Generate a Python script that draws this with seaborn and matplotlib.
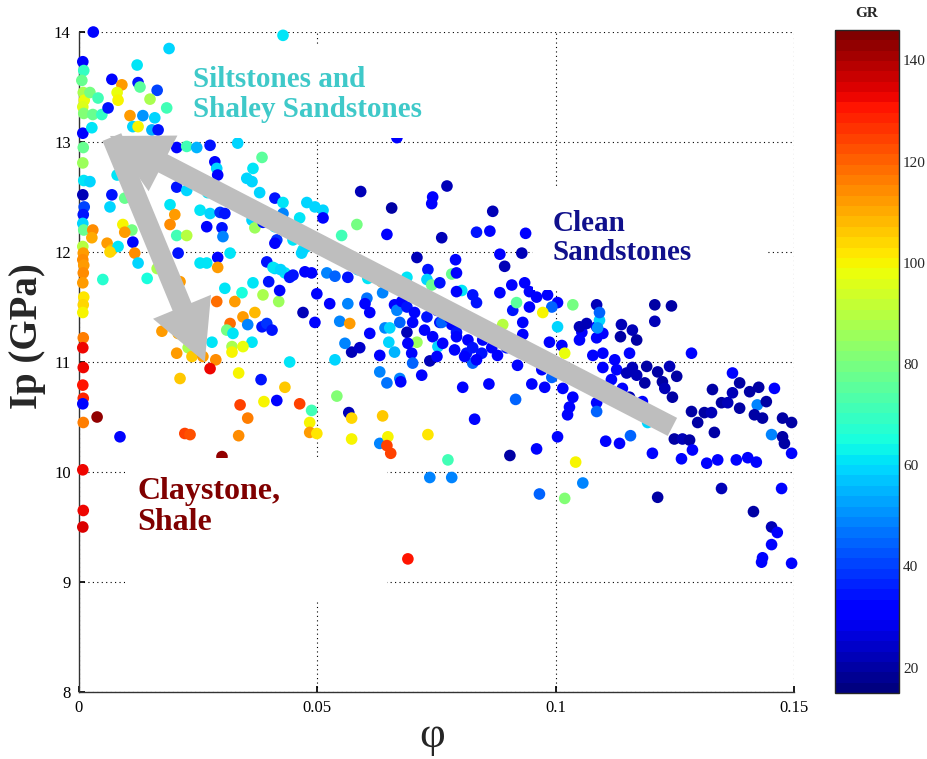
import numpy as np
import pandas as pd
import matplotlib
matplotlib.use("Agg")
import matplotlib.pyplot as plt
import seaborn as sns
from matplotlib.patches import Rectangle
from matplotlib.colors import Normalize
from matplotlib.cm import ScalarMappable

# ---------------- data ----------------
# points along the phi ~ 0 edge
edge_phi = [0.0008, 0.0010, 0.0006, 0.0009, 0.0011, 0.0008, 0.0010, 0.0008, 0.0009, 0.0008,
            0.0010, 0.0008, 0.0011, 0.0009, 0.0008, 0.0010, 0.0008, 0.0009, 0.0008, 0.0010,
            0.0009, 0.0008, 0.0010, 0.0009, 0.0008, 0.0009, 0.0008, 0.0009, 0.0008, 0.0009,
            0.0008, 0.0009, 0.0008, 0.0009, 0.0008, 0.0030, 0.0038]
edge_ip = [13.73, 13.65, 13.56, 13.45, 13.38, 13.32, 13.26, 13.08, 12.95, 12.81,
           12.65, 12.52, 12.41, 12.34, 12.26, 12.20, 12.05, 11.99, 11.93, 11.88,
           11.81, 11.72, 11.59, 11.52, 11.45, 11.22, 11.13, 10.95, 10.79, 10.67,
           10.62, 10.45, 10.02, 9.65, 9.50, 14.00, 10.50]
edge_gr = [32, 70, 78, 88, 98, 95, 82, 30, 78, 86,
           62, 22, 40, 35, 58, 78, 90, 112, 115, 113,
           115, 112, 102, 105, 100, 116, 132, 133, 130, 128,
           32, 117, 133, 132, 134, 32, 142]

# siltstones / shaley sandstones (upper left)
silt_phi = [0.0023, 0.0040, 0.0029, 0.0048, 0.0027, 0.0069, 0.0090, 0.0124, 0.0128, 0.0164,
            0.0149, 0.0080, 0.0082, 0.0061, 0.0184, 0.0107, 0.0134, 0.0159, 0.0113, 0.0124,
            0.0153, 0.0166, 0.0122, 0.0189, 0.0428, 0.0205, 0.0226, 0.0247, 0.0275, 0.0333,
            0.0285, 0.0289, 0.0384, 0.0365, 0.0352, 0.0363, 0.0291, 0.0208, 0.0229, 0.0080,
            0.0023, 0.0205, 0.0226, 0.0270, 0.0296, 0.0379, 0.0411, 0.0428, 0.0478, 0.0254,
            0.0275, 0.0296, 0.0306, 0.0191, 0.0268, 0.0300, 0.0302, 0.0363, 0.0369, 0.0386,
            0.0411, 0.0415, 0.0447, 0.0474, 0.0470, 0.0495, 0.0411, 0.0205, 0.0092, 0.0111,
            0.0191, 0.0226, 0.0201, 0.0090, 0.0069, 0.0065, 0.0096, 0.0117, 0.0096, 0.0029,
            0.0027, 0.0059, 0.0069, 0.0082, 0.0113, 0.0117, 0.0124, 0.0164, 0.0143, 0.0050,
            0.0065, 0.0208, 0.0254, 0.0268, 0.0291, 0.0291, 0.0212, 0.0317, 0.0394, 0.0411,
            0.0432, 0.0449, 0.0474, 0.0488, 0.0520, 0.0407, 0.0423, 0.0442, 0.0463, 0.0512,
            0.0512, 0.0428, 0.0449, 0.0478, 0.0467, 0.0583, 0.0551]
silt_ip = [13.45, 13.40, 13.25, 13.25, 13.13, 13.57, 13.52, 13.54, 13.50, 13.47,
           13.39, 13.45, 13.38, 13.31, 13.31, 13.24, 13.24, 13.22, 13.14, 13.14,
           13.11, 13.11, 13.70, 13.85, 13.97, 12.95, 12.96, 12.95, 12.97, 12.99,
           12.82, 12.76, 12.86, 12.76, 12.67, 12.64, 12.70, 12.72, 12.65, 12.70,
           12.64, 12.59, 12.56, 12.54, 12.54, 12.54, 12.49, 12.45, 12.45, 12.38,
           12.35, 12.36, 12.35, 12.43, 12.23, 12.22, 12.14, 12.29, 12.22, 12.27,
           12.23, 12.11, 12.20, 12.17, 12.02, 12.41, 12.08, 12.15, 12.25, 12.20,
           12.25, 12.15, 12.34, 12.80, 12.52, 12.41, 12.49, 12.49, 12.18, 12.20,
           12.13, 12.08, 12.02, 12.05, 12.09, 11.99, 11.90, 11.85, 11.76, 11.75,
           12.00, 11.99, 11.90, 11.90, 11.95, 11.86, 11.73, 11.99, 11.91, 11.85,
           11.81, 11.79, 11.82, 11.81, 11.81, 11.86, 11.84, 11.77, 12.31, 12.38,
           12.31, 12.35, 12.11, 12.05, 11.99, 12.25, 12.15]
silt_gr = [80, 72, 78, 70, 62, 32, 112, 35, 75, 40,
           88, 98, 100, 35, 72, 112, 50, 58, 60, 100,
           55, 35, 62, 58, 62, 32, 72, 55, 35, 60,
           32, 60, 76, 62, 60, 58, 30, 32, 60, 62,
           60, 35, 58, 62, 32, 60, 35, 62, 60, 62,
           58, 38, 35, 62, 32, 35, 48, 60, 86, 35,
           62, 38, 60, 58, 62, 58, 32, 72, 100, 80,
           115, 90, 113, 80, 35, 60, 78, 62, 112, 115,
           110, 112, 108, 62, 32, 115, 60, 88, 65, 68,
           105, 35, 62, 62, 32, 113, 112, 62, 35, 60,
           62, 35, 30, 32, 48, 62, 58, 35, 62, 58,
           32, 48, 62, 60, 58, 80, 72]

# claystone / shale trend (lower left)
clay_phi = [0.0174, 0.0208, 0.0205, 0.0229, 0.0237, 0.0260, 0.0287, 0.0275, 0.0279, 0.0212,
            0.0289, 0.0306, 0.0327, 0.0342, 0.0317, 0.0310, 0.0323, 0.0344, 0.0369, 0.0354,
            0.0363, 0.0321, 0.0321, 0.0344, 0.0365, 0.0386, 0.0398, 0.0419, 0.0421, 0.0470,
            0.0495, 0.0384, 0.0394, 0.0405, 0.0442, 0.0335, 0.0382, 0.0432, 0.0388, 0.0415,
            0.0463, 0.0488, 0.0338, 0.0354, 0.0484, 0.0484, 0.0499, 0.0335, 0.0300, 0.0222,
            0.0233, 0.0086, 0.0541, 0.0566, 0.0572, 0.0637, 0.0572, 0.0631, 0.0648, 0.0646,
            0.0654, 0.0732, 0.0774, 0.0736, 0.0782, 0.0690]
clay_ip = [11.28, 11.26, 11.08, 11.13, 11.05, 11.05, 11.02, 10.94, 11.18, 10.85,
           11.55, 11.67, 11.55, 11.63, 11.35, 11.29, 11.26, 11.41, 11.45, 11.34,
           11.18, 11.14, 11.09, 11.14, 11.72, 11.61, 11.73, 11.55, 11.65, 11.45,
           11.36, 11.32, 11.35, 11.29, 11.00, 10.90, 10.84, 10.77, 10.64, 10.65,
           10.62, 10.56, 10.61, 10.49, 10.45, 10.36, 10.35, 10.33, 10.14, 10.35,
           10.34, 10.32, 10.69, 10.54, 10.49, 10.51, 10.30, 10.26, 10.32, 10.24,
           10.17, 10.34, 10.11, 9.95, 9.95, 9.21]
clay_gr = [112, 110, 112, 88, 106, 112, 115, 132, 62, 106,
           118, 62, 112, 65, 118, 80, 62, 112, 108, 48,
           62, 88, 100, 98, 62, 88, 35, 86, 32, 22,
           32, 35, 38, 35, 62, 100, 35, 106, 100, 32,
           125, 72, 124, 116, 100, 112, 102, 115, 142, 124,
           122, 32, 82, 22, 105, 106, 100, 48, 100, 125,
           125, 102, 72, 48, 48, 130]

# clean sandstones (centre and right)
clean_phi = [0.0591, 0.0656, 0.0772, 0.0742, 0.0740, 0.0646, 0.0761, 0.0868, 0.0834, 0.0862,
             0.0937, 0.0709, 0.0790, 0.0883, 0.0929, 0.0893, 0.0667, 0.0537, 0.0564, 0.0585,
             0.0606, 0.0635, 0.0688, 0.0732, 0.0730, 0.0740, 0.0757, 0.0782, 0.0792, 0.0803,
             0.0499, 0.0526, 0.0564, 0.0604, 0.0637, 0.0547, 0.0568, 0.0600, 0.0610, 0.0610,
             0.0642, 0.0652, 0.0662, 0.0667, 0.0677, 0.0688, 0.0704, 0.0673, 0.0688, 0.0700,
             0.0709, 0.0725, 0.0730, 0.0751, 0.0757, 0.0772, 0.0782, 0.0792, 0.0742, 0.0753,
             0.0763, 0.0690, 0.0698, 0.0650, 0.0662, 0.0631, 0.0572, 0.0589, 0.0558, 0.0537,
             0.0631, 0.0646, 0.0673, 0.0700, 0.0719, 0.0736, 0.0751, 0.0788, 0.0805, 0.0813,
             0.0826, 0.0860, 0.0675, 0.0830, 0.0916, 0.0950, 0.0977, 0.0904, 0.0960, 0.0966,
             0.1004, 0.0792, 0.0826, 0.0834, 0.0883, 0.0908, 0.0935, 0.0945, 0.0960, 0.0983,
             0.1004, 0.0992, 0.0931, 0.0910, 0.0945, 0.0761, 0.0778, 0.0792, 0.0816, 0.0826,
             0.0847, 0.0866, 0.0878, 0.0897, 0.0918, 0.0931, 0.0845, 0.0809, 0.0834, 0.0920,
             0.0971, 0.0987, 0.1013, 0.0992, 0.1015, 0.1036, 0.1029, 0.1055, 0.1050, 0.1065,
             0.1086, 0.1086, 0.1099, 0.1138, 0.1161, 0.1170, 0.1124, 0.1155, 0.1099, 0.1078,
             0.1099, 0.1128, 0.1149, 0.1161, 0.1117, 0.1140, 0.1155, 0.1086, 0.0918, 0.0973,
             0.1004, 0.0889, 0.1036, 0.1092, 0.1088, 0.1019, 0.1208, 0.1243, 0.1208, 0.1285,
             0.1086, 0.1050, 0.1092, 0.1136, 0.1191, 0.1214, 0.1239, 0.1254, 0.1170, 0.1187,
             0.1224, 0.1229, 0.1245, 0.1182, 0.1193, 0.1025, 0.1086, 0.1105, 0.1134, 0.1157,
             0.1042, 0.1019, 0.1057, 0.1203, 0.1214, 0.1249, 0.1266, 0.1281, 0.1287, 0.1264,
             0.1285, 0.1298, 0.1312, 0.1327, 0.1329, 0.1348, 0.1333, 0.1361, 0.1371, 0.1386,
             0.1371, 0.1407, 0.1426, 0.1459, 0.1423, 0.1442, 0.1417, 0.1434, 0.1386, 0.1317,
             0.1340, 0.1379, 0.1403, 0.1421, 0.1453, 0.1476, 0.1495, 0.1476, 0.1480, 0.1495,
             0.1348, 0.1474, 0.1415, 0.1453, 0.1465, 0.1453, 0.1434, 0.1432, 0.1495]
clean_ip = [12.55, 12.40, 12.60, 12.50, 12.44, 12.16, 12.13, 12.37, 12.18, 12.19,
            12.17, 11.95, 11.93, 11.98, 11.99, 11.87, 13.04, 11.78, 11.77, 11.84,
            11.76, 11.73, 11.77, 11.84, 11.75, 11.70, 11.72, 11.80, 11.81, 11.65,
            11.62, 11.53, 11.53, 11.58, 11.63, 11.37, 11.35, 11.53, 11.45, 11.26,
            11.31, 11.31, 11.52, 11.47, 11.55, 11.50, 11.45, 11.36, 11.27, 11.36,
            11.18, 11.29, 11.41, 11.47, 11.36, 11.50, 11.34, 11.27, 11.23, 11.14,
            11.17, 11.17, 11.08, 11.18, 11.09, 11.06, 11.09, 11.13, 11.17, 11.02,
            10.91, 10.81, 10.85, 10.99, 10.88, 11.01, 11.05, 11.11, 10.77, 11.08,
            10.99, 10.80, 10.82, 10.48, 10.66, 10.80, 10.77, 10.15, 10.21, 9.80,
            10.32, 11.64, 11.61, 11.54, 11.63, 11.70, 11.72, 11.64, 11.59, 11.61,
            11.54, 11.50, 11.36, 11.47, 11.50, 11.36, 11.40, 11.23, 11.20, 11.13,
            11.20, 11.13, 11.06, 11.13, 11.14, 11.25, 11.08, 11.05, 11.02, 10.97,
            10.93, 11.18, 11.15, 10.86, 10.76, 10.68, 10.59, 11.27, 11.20, 11.35,
            11.32, 11.22, 11.26, 11.34, 11.29, 11.20, 11.02, 11.08, 11.08, 11.06,
            10.95, 10.93, 10.90, 10.95, 10.84, 10.76, 10.68, 10.63, 11.54, 11.45,
            11.32, 11.34, 11.52, 11.38, 11.31, 11.08, 11.52, 11.51, 11.37, 11.08,
            11.52, 11.32, 11.45, 11.23, 10.96, 10.91, 10.96, 10.87, 10.88, 10.81,
            10.82, 10.76, 10.68, 10.64, 10.45, 10.52, 10.55, 10.28, 10.26, 10.33,
            10.09, 9.76, 9.90, 10.17, 9.77, 10.30, 10.30, 10.29, 10.20, 10.12,
            10.55, 10.45, 10.54, 10.54, 10.75, 10.63, 10.36, 10.63, 10.72, 10.58,
            10.90, 10.73, 10.77, 10.76, 10.61, 10.64, 10.52, 10.49, 10.81, 10.08,
            10.11, 10.11, 10.13, 10.09, 10.34, 10.49, 10.45, 10.32, 10.26, 10.17,
            9.85, 9.85, 9.64, 9.50, 9.45, 9.34, 9.22, 9.18, 9.17]
clean_gr = [22, 20, 22, 30, 30, 30, 22, 22, 35, 32,
            30, 22, 32, 30, 22, 22, 30, 45, 35, 60,
            62, 112, 62, 35, 58, 78, 35, 78, 32, 62,
            32, 30, 48, 46, 48, 48, 112, 32, 30, 32,
            48, 58, 32, 48, 30, 35, 32, 45, 22, 32,
            86, 32, 35, 30, 35, 32, 32, 35, 30, 58,
            32, 30, 32, 58, 55, 32, 22, 24, 48, 60,
            48, 46, 48, 45, 32, 22, 32, 32, 32, 35,
            45, 32, 32, 32, 45, 32, 32, 20, 32, 45,
            32, 32, 35, 35, 32, 30, 30, 32, 30, 32,
            30, 45, 32, 35, 30, 45, 32, 32, 30, 35,
            32, 30, 30, 35, 32, 30, 35, 32, 30, 32,
            32, 30, 32, 45, 32, 30, 32, 30, 32, 22,
            30, 32, 30, 22, 22, 20, 30, 32, 30, 32,
            30, 32, 22, 22, 32, 30, 22, 32, 76, 100,
            60, 90, 80, 60, 50, 98, 20, 20, 22, 32,
            22, 22, 45, 20, 20, 20, 22, 20, 22, 20,
            20, 22, 20, 30, 60, 32, 45, 32, 30, 45,
            100, 82, 48, 32, 20, 20, 22, 20, 30, 32,
            20, 20, 20, 22, 20, 20, 20, 22, 22, 20,
            32, 20, 20, 30, 48, 20, 20, 20, 20, 32,
            30, 32, 30, 32, 48, 20, 20, 20, 20, 32,
            22, 32, 20, 22, 30, 32, 32, 32, 32]

xtick_vals = [0, 0.05, 0.1, 0.15]
xtick_labels = ["0", "0.05", "0.1", "0.15"]
ytick_vals = [8, 9, 10, 11, 12, 13, 14]
cbar_ticks = [20, 40, 60, 80, 100, 120, 140]
gr_min, gr_max = 15, 146

df = pd.DataFrame({
    "phi": edge_phi + silt_phi + clay_phi + clean_phi,
    "ip": edge_ip + silt_ip + clay_ip + clean_ip,
    "gr": edge_gr + silt_gr + clay_gr + clean_gr,
})

# ---------------- style ----------------
sns.set_theme(style="white")
plt.rcParams["font.family"] = ["Liberation Serif", "DejaVu Serif"]

fig = plt.figure(figsize=(9.27, 7.59), dpi=100)
ax = fig.add_axes([0.0852, 0.0883, 0.7713, 0.8695])
cax = fig.add_axes([0.9008, 0.087, 0.069, 0.8735])

cmap = plt.get_cmap("jet", 64)
norm = Normalize(gr_min, gr_max)

sns.scatterplot(data=df, x="phi", y="ip", hue="gr", palette=cmap, hue_norm=norm,
                s=70, linewidth=0, legend=False, ax=ax, clip_on=False, zorder=3)

ax.set_xlim(0, 0.15)
ax.set_ylim(8, 14)
ax.set_xticks(xtick_vals)
ax.set_xticklabels(xtick_labels)
ax.set_yticks(ytick_vals)
ax.set_axisbelow(True)
ax.grid(True, linestyle=(0, (1, 3)), color="black", linewidth=0.8)
for side in ["top", "right"]:
    ax.spines[side].set_visible(False)
for side in ["left", "bottom"]:
    ax.spines[side].set_color("#333333")
    ax.spines[side].set_linewidth(1.0)
ax.tick_params(direction="in", length=4, labelsize=12, colors="black",
               left=True, bottom=True, pad=6)

ax.set_xlabel("φ", fontsize=32)
ax.xaxis.set_label_coords(0.494, -0.036)
ax.set_ylabel("Ip (GPa)", fontsize=28, fontweight="bold")
ax.yaxis.set_label_coords(-0.046, 0.54)

# white boxes behind the labels
for (x0, x1, y0, y1) in [(0.0215, 0.0757, 13.036, 13.882),
                         (0.0952, 0.1442, 11.655, 12.582),
                         (0.0096, 0.0646, 8.836, 10.125)]:
    ax.add_patch(Rectangle((x0, y0), x1 - x0, y1 - y0, facecolor="white",
                           edgecolor="none", zorder=4))

ax.text(0.0239, 13.69, "Siltstones and\nShaley Sandstones", color="#3FC9C9",
        fontsize=21, fontweight="bold", va="top", ha="left", zorder=6,
        linespacing=1.12)
ax.text(0.0994, 12.385, "Clean\nSandstones", color="#10108C",
        fontsize=21, fontweight="bold", va="top", ha="left", zorder=6,
        linespacing=1.12)
ax.text(0.0122, 9.955, "Claystone,\nShale", color="#800000",
        fontsize=23, fontweight="bold", va="top", ha="left", zorder=6,
        linespacing=1.1)

arrow_style = "simple,head_length=1,head_width=1.05,tail_width=0.34"
ax.annotate("", xy=(0.0065, 13.055), xytext=(0.1245, 10.41),
            arrowprops=dict(arrowstyle=arrow_style, mutation_scale=43, color="#BEBEBE",
                            shrinkA=0, shrinkB=0, lw=0),
            zorder=5, annotation_clip=False)
ax.annotate("", xy=(0.0264, 11.0), xytext=(0.0069, 13.045),
            arrowprops=dict(arrowstyle=arrow_style, mutation_scale=43, color="#BEBEBE",
                            shrinkA=0, shrinkB=0, lw=0),
            zorder=5, annotation_clip=False)

# colorbar
sm = ScalarMappable(norm=norm, cmap=cmap)
cb = fig.colorbar(sm, cax=cax, ticks=cbar_ticks)
cb.outline.set_linewidth(1.0)
cax.tick_params(direction="in", length=5, labelsize=11, left=True, right=True,
                color="#555555", pad=3)
cax.set_title("GR", fontsize=11, fontweight="bold", pad=9)

fig.savefig("out.png", dpi=100)
